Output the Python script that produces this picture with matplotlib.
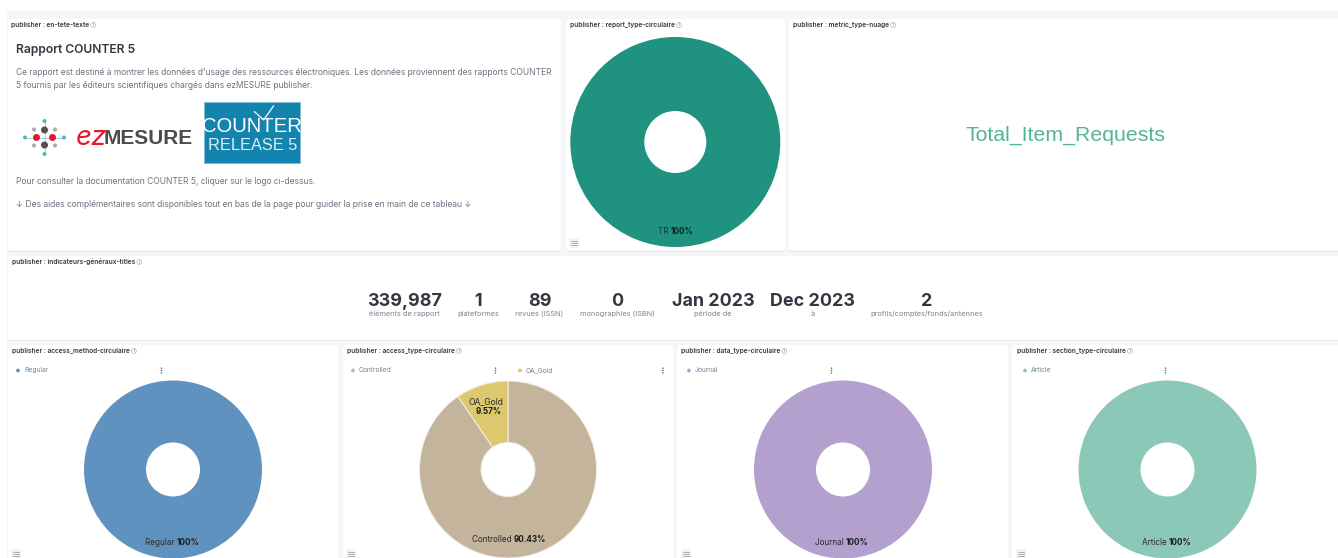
import matplotlib
matplotlib.use("Agg")
import matplotlib.pyplot as plt
from matplotlib.patches import FancyBboxPatch, Rectangle, Circle

W, H = 1338, 558
plt.rcParams['font.family'] = ['Inter', 'DejaVu Sans']

# ---------- data ----------
report_labels = ["TR"]
report_values = [100]
report_colors = ["#209280"]
method_labels = ["Regular"]
method_values = [100]
method_colors = ["#6092C0"]
access_labels = ["Controlled", "OA_Gold"]
access_values = [90.43, 9.57]
access_colors = ["#C4B49B", "#DDC86E"]
data_labels = ["Journal"]
data_values = [100]
data_colors = ["#B4A0CE"]
section_labels = ["Article"]
section_values = [100]
section_colors = ["#8CC8B7"]
metric_word = "Total_Item_Requests"
kpi_values = ["339,987", "1", "89", "0", "Jan 2023", "Dec 2023", "2"]
kpi_labels = ["éléments de rapport", "plateformes", "revues (ISSN)", "monographies (ISBN)",
              "période de", "à", "profils/comptes/fonds/antennes"]
kpi_x = [404.5, 478.5, 539.5, 617.5, 713, 812.5, 926.5]

fig = plt.figure(figsize=(W / 100, H / 100), dpi=100, facecolor="white")
bg = fig.add_axes([0, 0, 1, 1], zorder=0)
bg.set_xlim(0, W)
bg.set_ylim(H, 0)
bg.axis("off")
fg = fig.add_axes([0, 0, 1, 1], zorder=10)
fg.set_xlim(0, W)
fg.set_ylim(H, 0)
fg.axis("off")
fg.patch.set_alpha(0)

bg.add_patch(Rectangle((7, 10), W - 7, H - 10, fc="#F5F6F8", ec="none", zorder=0))


def panel(x0, y0, x1, y1, title, tx):
    bg.add_patch(FancyBboxPatch((x0, y0 + 1), x1 - x0, y1 - y0, boxstyle="round,pad=0,rounding_size=3",
                                fc="#E3E5EA", ec="none", zorder=1))
    bg.add_patch(FancyBboxPatch((x0, y0), x1 - x0, y1 - y0, boxstyle="round,pad=0,rounding_size=3",
                                fc="white", ec="none", zorder=2))
    txt = bg.text(tx, y0 + 6, title, fontsize=4.7, fontweight="semibold", color="#343741",
                  va="center", ha="left", zorder=5)
    fig.canvas.draw()
    ext = txt.get_window_extent()
    cx = ext.x1 + 4
    bg.add_patch(Circle((cx, y0 + 6), 2.4, fc="white", ec="#98A2B3", lw=0.4, zorder=5))
    bg.text(cx, y0 + 6, "i", fontsize=3.2, color="#69707D", ha="center", va="center", zorder=6)


panel(8, 19, 561, 251, "publisher : en-tete-texte", 11)
panel(566, 19, 785, 251, "publisher : report_type-circulaire", 570)
panel(789, 19, 1345, 251, "publisher : metric_type-nuage", 793)
panel(8, 256, 1345, 340, "publisher : indicateurs-généraux-titles", 12)
panel(8, 345, 338, 565, "publisher : access_method-circulaire", 12)
panel(343, 345, 673, 565, "publisher : access_type-circulaire", 347)
panel(677, 345, 1008, 565, "publisher : data_type-circulaire", 681)
panel(1012, 345, 1345, 565, "publisher : section_type-circulaire", 1017)

# text panel
bg.text(16, 50, "Rapport COUNTER 5", fontsize=8.7, fontweight="semibold", color="#343741", va="center", zorder=5)
body = "#6E7380"
bg.text(16, 72.5, "Ce rapport est destiné à montrer les données d'usage des ressources électroniques. Les données proviennent des rapports COUNTER",
        fontsize=6.12, color=body, va="center", zorder=5)
bg.text(16, 85.5, "5 fournis par les éditeurs scientifiques chargés dans ezMESURE publisher.",
        fontsize=6.12, color=body, va="center", zorder=5)
bg.text(16, 182, "Pour consulter la documentation COUNTER 5, cliquer sur le logo ci-dessus.",
        fontsize=6.12, color=body, va="center", zorder=5)
bg.text(16, 204.5, "↓ Des aides complémentaires sont disponibles tout en bas de la page pour guider la prise en main de ce tableau ↓",
        fontsize=6.12, color=body, va="center", zorder=5)

# ezMESURE logo
cx, cy = 44.5, 137.5
bg.plot([cx - 18, cx + 18], [cy, cy], color="#7CC4CB", lw=0.5, zorder=4)
bg.plot([cx, cx], [cy - 16, cy + 16], color="#7CC4CB", lw=0.5, zorder=4)
for dx, dy, r, c in [(0, -16.5, 2.0, "#4FB4C0"), (0, 16.5, 2.0, "#4FB4C0"), (-19.5, 0, 2.0, "#4FB4C0"),
                     (19.5, 0, 2.0, "#4FB4C0"), (0, -7.5, 3.5, "#555050"), (0, 7.5, 3.5, "#555050"),
                     (-8, 0, 3.5, "#E3172D"), (8, 0, 3.5, "#E3172D"), (-10.5, -8, 2.1, "#B0ABAB"),
                     (10.5, -8, 2.1, "#B0ABAB"), (-10.5, 8, 2.1, "#B0ABAB"), (10.5, 8, 2.1, "#B0ABAB")]:
    bg.add_patch(Circle((cx + dx, cy + dy), r, fc=c, ec="none", zorder=5))
bg.text(76, 138, "ez", fontsize=20, color="#E3172D", va="center", ha="left", style="italic", zorder=5)
bg.text(104, 138, "MESURE", fontsize=15, fontweight="bold", color="#4F4B4B", va="center", ha="left",
        family="Liberation Sans", zorder=5)

# COUNTER logo
bg.add_patch(Rectangle((203.5, 101.5), 96.5, 61, fc="#1284AE", ec="#7FBAD2", lw=0.5, zorder=4))
bg.text(251.5, 127, "COUNTER", fontsize=14.6, color="white", ha="center", va="center", family="Liberation Sans",
        zorder=5)
bg.text(253, 146, "RELEASE 5", fontsize=11.8, color="#DCEFF6", ha="center", va="center", family="Liberation Sans", zorder=5)
bg.plot([254.5, 263.6, 273.5], [111.7, 120, 106], color="white", lw=0.9, zorder=6)

# word cloud
bg.text(1066, 135, metric_word, fontsize=15.3, color="#54B399", ha="center", va="center",
        family="Liberation Sans", zorder=5)

# KPIs
for x, v, l in zip(kpi_x, kpi_values, kpi_labels):
    bg.text(x, 301, v, fontsize=12.9, fontweight="bold", color="#343741", ha="center", va="center", zorder=5)
    bg.text(x, 314, l, fontsize=5.3, color="#7B8290", ha="center", va="center", zorder=5)


def donut(cx, cy, r, hole, values, colors):
    pad = r + 2
    ax = fig.add_axes([(cx - pad) / W, 1 - (cy + pad) / H, 2 * pad / W, 2 * pad / H], zorder=3)
    ax.pie(values, colors=colors, startangle=90, counterclock=False, radius=r,
           wedgeprops=dict(width=r - hole, edgecolor="#F2EFE8" if len(values) > 1 else "none", linewidth=0.7))
    ax.set_xlim(-pad, pad)
    ax.set_ylim(-pad, pad)
    ax.set_aspect("equal")
    ax.patch.set_alpha(0)
    ax.axis("off")
    return ax


def list_icon(x, y):
    fg.add_patch(FancyBboxPatch((x - 5, y - 5), 10, 10, boxstyle="round,pad=0,rounding_size=1.5",
                                fc="#F1F3F6", ec="none", zorder=7))
    for dy in (-2, 0, 2):
        fg.plot([x - 1.5, x + 3], [y + dy, y + dy], color="#69707D", lw=0.4, zorder=8)
        fg.plot([x - 3, x - 2.4], [y + dy, y + dy], color="#69707D", lw=0.4, zorder=8)


def legend_item(x, y, label, color, menu_x):
    bg.add_patch(Circle((x, y), 1.9, fc=color, ec="none", zorder=5))
    bg.text(x + 6, y - 0.3, label, fontsize=4.8, color="#7B8290", va="center", zorder=5)
    for dy in (-2.3, 0, 2.3):
        bg.add_patch(Circle((menu_x, y + dy), 0.8, fc="#69707D", ec="none", zorder=5))


def pie_label(x, y, label, pct):
    fg.text(x, y, label + " ", fontsize=5.85, color="#2A2A2E", ha="right", va="center", zorder=9)
    fg.text(x, y, pct, fontsize=5.85, fontweight="bold", color="#1A1C21", ha="left", va="center", zorder=9)


donut(675.3, 142, 105, 31, report_values, report_colors)
pie_label(670.5, 231, report_labels[0], "100%")
list_icon(574, 243)

donut(173, 469.5, 89, 27, method_values, method_colors)
legend_item(18, 370.5, method_labels[0], method_colors[0], 161.5)
pie_label(177, 542.5, method_labels[0], "100%")
list_icon(16, 554)

donut(508, 469.5, 88.5, 27, access_values, access_colors)
legend_item(353, 370.5, access_labels[0], access_colors[0], 495.5)
legend_item(520, 370.5, access_labels[1], access_colors[1], 663)
pie_label(513.5, 539, access_labels[0], "90.43%")
fg.text(486, 402, access_labels[1], fontsize=6.2, color="#2A2A2E", ha="center", va="center", zorder=9)
fg.text(488.5, 411, "9.57%", fontsize=5.85, fontweight="bold", color="#1A1C21", ha="center", va="center", zorder=9)
list_icon(351, 554)

donut(843, 469.5, 89, 27, data_values, data_colors)
legend_item(689, 370.5, data_labels[0], data_colors[0], 831.5)
pie_label(846, 542.5, data_labels[0], "100%")
list_icon(686, 554)

donut(1167.5, 469.5, 89, 27, section_values, section_colors)
legend_item(1025, 370.5, section_labels[0], section_colors[0], 1165.5)
pie_label(1169, 542.5, section_labels[0], "100%")
list_icon(1021, 554)

fig.savefig("out.png", dpi=100, facecolor="white")
